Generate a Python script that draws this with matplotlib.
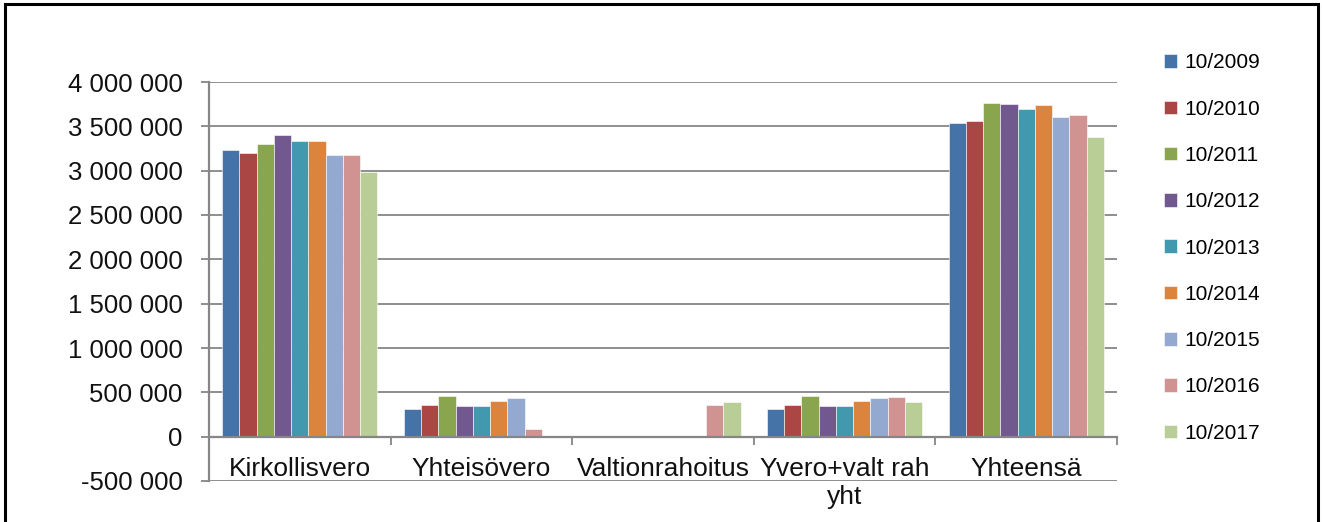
import numpy as np
import matplotlib
matplotlib.use("Agg")
import matplotlib.pyplot as plt
from matplotlib.ticker import FuncFormatter, FixedLocator
from matplotlib.patches import Rectangle

plt.rcParams['font.family'] = ['Liberation Sans', 'DejaVu Sans']

# data
categories = ['Kirkollisvero', 'Yhteisövero', 'Valtionrahoitus', 'Yvero+valt rah\nyht', 'Yhteensä']
series = ['10/2009', '10/2010', '10/2011', '10/2012', '10/2013',
          '10/2014', '10/2015', '10/2016', '10/2017']
nan = np.nan
kirkollisvero = [3238000, 3204000, 3306000, 3400000, 3340000, 3340000, 3174000, 3180000, 2986000]
yhteisovero = [308000, 360000, 458000, 349000, 349000, 401000, 435000, 90000, nan]
valtionrahoitus = [nan, nan, nan, nan, nan, nan, nan, 360000, 394000]
yvero_valt = [308000, 360000, 458000, 349000, 349000, 401000, 435000, 443000, 386000]
yhteensa = [3543000, 3565000, 3768000, 3752000, 3700000, 3741000, 3610000, 3628000, 3385000]
y_ticks = [-500000, 0, 500000, 1000000, 1500000, 2000000, 2500000, 3000000, 3500000, 4000000]

colors = ['#4572A7', '#AA4643', '#89A54E', '#71588F', '#4198AF',
          '#DB843D', '#93A9CF', '#D19392', '#B9CD96']

values = np.array([kirkollisvero, yhteisovero, valtionrahoitus, yvero_valt, yhteensa], dtype=float)

fig = plt.figure(figsize=(13.22, 5.22), dpi=100)
ax = fig.add_axes([209/1322, 1 - 481/522, (1117 - 209)/1322, (481 - 82)/522])

x = np.arange(len(categories))
w = 0.095
for i, name in enumerate(series):
    ax.bar(x + (i - 4) * w, values[:, i], width=w, color=colors[i],
           edgecolor='white', linewidth=0.4, label=name, zorder=3)

ax.set_xlim(-0.5, len(categories) - 0.5)
ax.set_ylim(-500000, 4000000)

grey = '#868686'
ax.set_yticks(y_ticks)
ax.yaxis.set_major_formatter(FuncFormatter(lambda v, p: f"{int(v):,}".replace(",", " ")))
ax.grid(axis='y', color=grey, linewidth=1.3, zorder=0)
ax.tick_params(axis='y', direction='out', length=6, width=1.3, color=grey,
               pad=13, labelsize=18.5, labelcolor='#111111')

ax.xaxis.set_major_locator(FixedLocator(np.arange(-0.5, len(categories), 1.0)))
ax.xaxis.set_minor_locator(FixedLocator(x))
ax.set_xticklabels([], minor=False)
ax.set_xticklabels(categories, minor=True, linespacing=1.75)
ax.tick_params(axis='x', which='major', direction='out', length=6, width=1.3, color=grey)
ax.tick_params(axis='x', which='minor', length=0, pad=15, labelsize=19, labelcolor='#111111')

for side in ['top', 'right']:
    ax.spines[side].set_visible(False)
ax.spines['bottom'].set_position(('data', 0))
ax.spines['bottom'].set_color(grey)
ax.spines['bottom'].set_linewidth(1.6)
ax.spines['bottom'].set_zorder(4)
ax.spines['left'].set_color(grey)
ax.spines['left'].set_linewidth(1.6)

fig.legend(loc='upper left', bbox_to_anchor=(1156/1322, 1 - 45/522), frameon=False,
           fontsize=15, handlelength=0.62, handleheight=0.62, handletextpad=0.35,
           labelspacing=1.31, borderaxespad=0)

# outer frame
fig.patches.append(Rectangle((5/1322, -0.05), (1318 - 5)/1322, 1.05 - 4/522,
                             transform=fig.transFigure, fill=False,
                             edgecolor='black', linewidth=2.2))

fig.savefig('out.png', dpi=100)
